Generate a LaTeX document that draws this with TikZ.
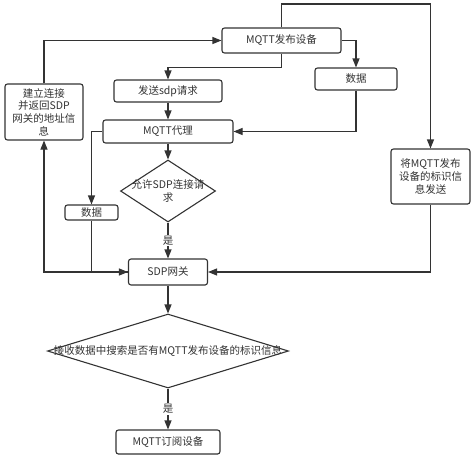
\documentclass[tikz,border=0pt]{standalone}
\usepackage{fontspec}
\newfontfamily\cjk{Noto Sans CJK SC}
\usetikzlibrary{shapes.geometric,arrows.meta}

\begin{document}
\begin{tikzpicture}[x=1pt, y=1pt, color=black!80, line width=1.1pt, >={Triangle[length=9pt,width=7pt]},
  every node/.style={font=\cjk\fontsize{10.5}{12.6}\selectfont},
  block/.style={rectangle, draw, rounded corners=2.5pt, inner sep=0pt, align=center, minimum height=22pt},
  decision/.style={diamond, draw, inner sep=0pt},
  yes/.style={fill=white, inner sep=1pt}]

    \useasboundingbox (0,0) rectangle (474,-459);

    \node[block, minimum width=119pt, minimum height=25pt] (pub) at (281.5,-40.5) {MQTT发布设备};
    \node[block, minimum width=108pt] (req) at (168,-91) {发送sdp请求};
    \node[block, minimum width=130pt, minimum height=23pt, below of=req, node distance=40.5pt] (proxy) {MQTT代理};
    \node[decision, minimum width=95pt, minimum height=62pt, below of=proxy, node distance=59.5pt,
      label={[align=center]center:{允许SDP连接请\\求}}] (allow) {};
    \node[block, minimum width=79pt, minimum height=26pt, below of=allow, node distance=81pt] (gw) {SDP网关};
    \node[decision, minimum width=241pt, minimum height=74pt, below of=gw, node distance=79pt,
      label={center:{接收数据中搜索是否有MQTT发布设备的标识信息}}] (search) {};
    \node[block, minimum width=104pt, minimum height=24pt, below of=search, node distance=91pt] (sub) {MQTT订阅设备};

    \node[block, minimum width=78pt, minimum height=56pt] (conn) at (44,-112) {建立连接\\并返回SDP\\网关的地址信\\息};
    \node[block, minimum width=82pt] (dataR) at (356,-79) {数据};
    \node[block, minimum width=53pt, minimum height=15pt] (dataL) at (91.5,-212.5) {数据};
    \node[block, minimum width=79pt, minimum height=55pt] (ident) at (430.5,-176.5) {将MQTT发布\\设备的标识信\\息发送};

    \draw[->] (conn.north) |- (pub.west);
    \draw[->] (pub.north) -- ++(0,23.5) -| (ident.north);
    \draw[->] (pub.east) -| (dataR.north);
    \draw[->] (pub.south) -- ++(0,-13.5) -| (req.north);
    \draw[->] (req) -- (proxy);
    \draw[->] (dataR.south) |- (proxy.east);
    \draw[->] (proxy.west) -| (dataL.north);
    \draw[->] (proxy) -- (allow);
    \draw[->] (allow) -- node[yes] {是} (gw);
    \draw[->] (dataL.south) |- (gw.west);
    \draw[->] (gw.west) -| (conn.south);
    \draw[->] (ident.south) |- (gw.east);
    \draw[->] (gw) -- (search);
    \draw[->] (search) -- node[yes] {是} (sub);
  \end{tikzpicture}
\end{document}
